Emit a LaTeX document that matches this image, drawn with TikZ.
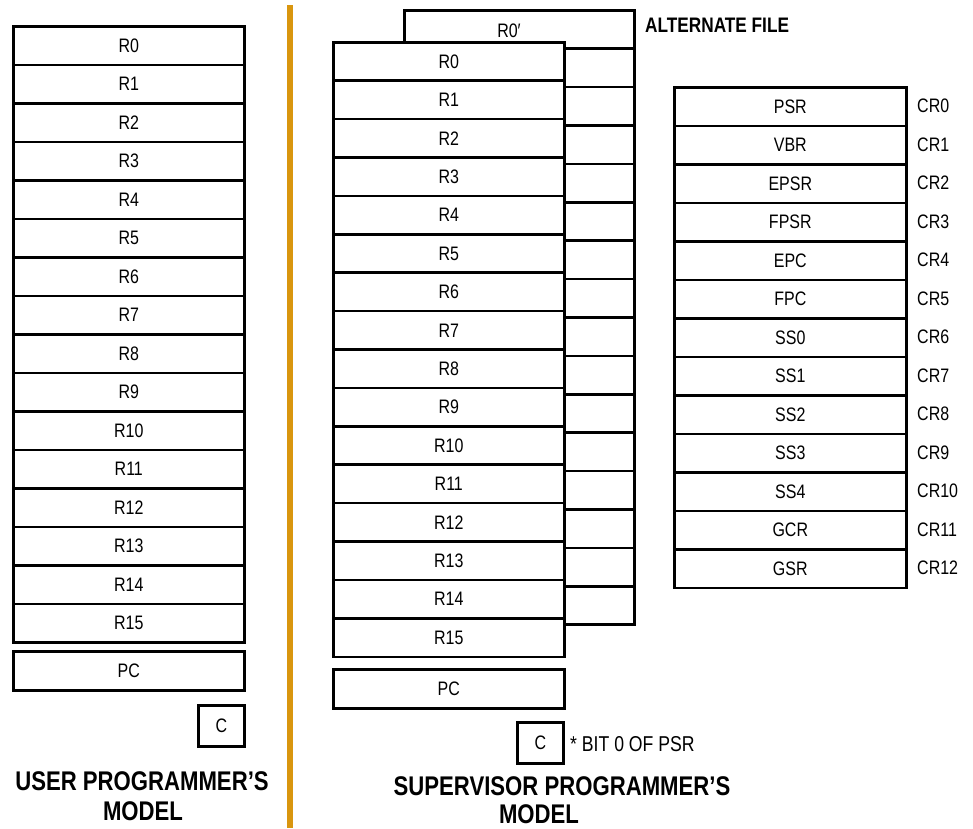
\documentclass[tikz,border=0pt]{standalone}
\usepackage{fontspec}
\setmainfont{Liberation Sans}[FakeStretch=0.82]
\definecolor{divider}{HTML}{D9960F}
\begin{document}
\begin{tikzpicture}[x=1pt,y=-1pt,
  reg/.style={draw=black,line width=2.6pt,fill=white,minimum width=231pt,minimum height=38.5pt,inner sep=0pt,font=\fontsize{19.5}{19.5}\selectfont,anchor=north west},
  bk/.style={draw=black,line width=2.6pt,fill=white,minimum width=230pt,minimum height=38.4pt,inner sep=0pt,anchor=north west},
  cbox/.style={draw=black,line width=2.6pt,fill=white,minimum width=46pt,minimum height=41pt,inner sep=0pt,font=\fontsize{19.5}{19.5}\selectfont,anchor=north west},
  lbl/.style={font=\fontsize{19.5}{19.5}\selectfont,inner sep=0pt},
  ttl/.style={font=\bfseries\fontsize{27}{27}\selectfont,inner sep=0pt}]
\useasboundingbox (0,0) rectangle (973,828);
% divider
\draw[divider,line width=6pt] (290,5) -- (290,828);
% user model
\foreach \i in {0,...,15}{
  \node[reg] (u\i) at (12,{25+38.5*\i}) {R\i};
}
\node[reg,minimum height=39pt] (upc) at (12,650) {PC};
\node[cbox] (uc) at (197,704) {C};
\node[ttl] (ut1) at (142,781) {USER PROGRAMMER’S};
\node[ttl] (ut2) at (143,811) {MODEL};
% supervisor alternate file (back)
\foreach \i in {0,...,15}{
  \node[bk] (b\i) at (403,{9+38.4*\i}) {};
}
\node[lbl] (bl) at (509,31) {R0′};
\node[font=\bfseries\fontsize{21}{21}\selectfont,anchor=west,inner sep=0pt] (alt) at (645,25) {ALTERNATE FILE};
% supervisor front file
\foreach \i in {0,...,15}{
  \node[reg] (s\i) at (332,{41+38.4*\i}) {R\i};
}
\node[reg,minimum height=39pt] (spc) at (332,668) {PC};
\node[cbox] (sc) at (516,721) {C};
\node[font=\fontsize{21.5}{21.5}\selectfont,inner sep=0pt,anchor=west] (note) at (570,744) {* BIT 0 OF PSR};
\node[ttl] (st1) at (562,786) {SUPERVISOR PROGRAMMER’S};
\node[ttl] (st2) at (539,814) {MODEL};
% control registers
\foreach \n [count=\k from 0] in {PSR,VBR,EPSR,FPSR,EPC,FPC,SS0,SS1,SS2,SS3,SS4,GCR,GSR}{
  \node[reg,minimum width=232pt] (c\k) at (673,{86+38.5*\k}) {\n};
  \node[lbl,anchor=west] (cr\k) at (917,{106+38.5*\k}) {CR\k};
}
\end{tikzpicture}
\end{document}
